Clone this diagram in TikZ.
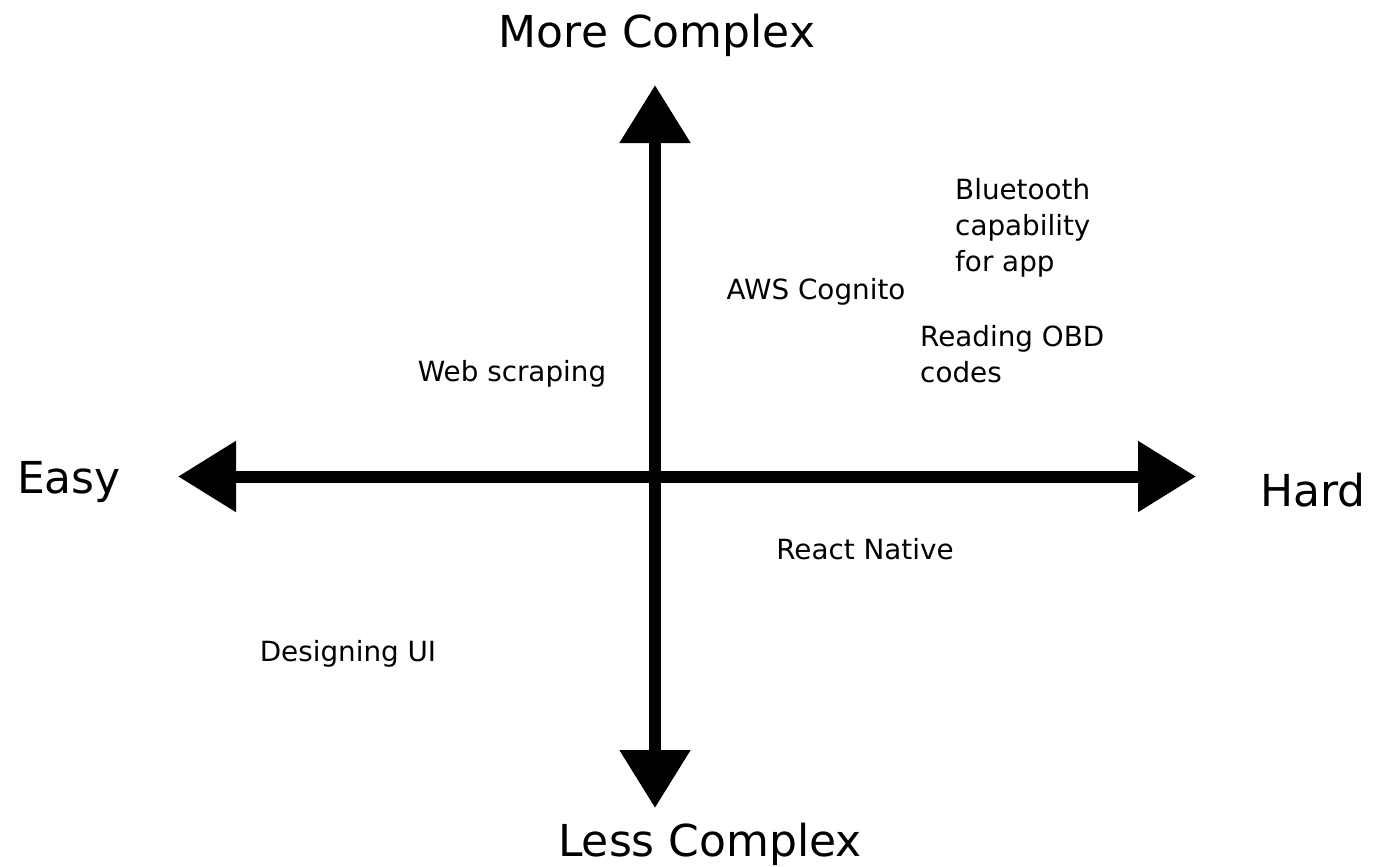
\documentclass[tikz,border=0pt]{standalone}
\usepackage{fontspec}
\setmainfont{DejaVu Sans}
\usetikzlibrary{arrows.meta}
\begin{document}
\begin{tikzpicture}[x=1pt,y=-1pt,
  axis/.style={line width=12pt, arrows={Triangle[length=58pt,width=68pt]-Triangle[length=58pt,width=68pt]}},
  big/.style={font=\fontsize{44}{52}\selectfont, inner sep=0pt, text height=32pt, text depth=0pt},
  lbl/.style={font=\fontsize{27.8}{36}\selectfont, inner sep=0pt, text height=20pt, text depth=0pt},
  blk/.style={font=\fontsize{27.8}{36}\selectfont, inner sep=0pt, align=left, anchor=north west}]
\useasboundingbox (0,0) rectangle (1392,867);
\coordinate (top) at (655,85);
\coordinate (bot) at (655,808);
\coordinate (lft) at (178,476.5);
\coordinate (rgt) at (1196,476.5);
\draw[axis] (lft) -- (rgt);
\draw[axis] (bot) -- (top);
\node[big] (more) at (657,32) {More Complex};
\node[big] (less) at (710,840) {Less Complex};
\node[big] (easy) at (69,477) {Easy};
\node[big] (hard) at (1313,490) {Hard};
\node[lbl] (web) at (512,371) {Web scraping};
\node[lbl] (aws) at (816,289) {AWS Cognito};
\node[lbl] (react) at (865,549) {React Native};
\node[lbl] (design) at (348,651) {Designing UI};
\node[blk] (blue) at (955,178) {Bluetooth\\capability\\for app};
\node[blk] (obd) at (920,325) {Reading OBD\\codes};
\end{tikzpicture}
\end{document}
